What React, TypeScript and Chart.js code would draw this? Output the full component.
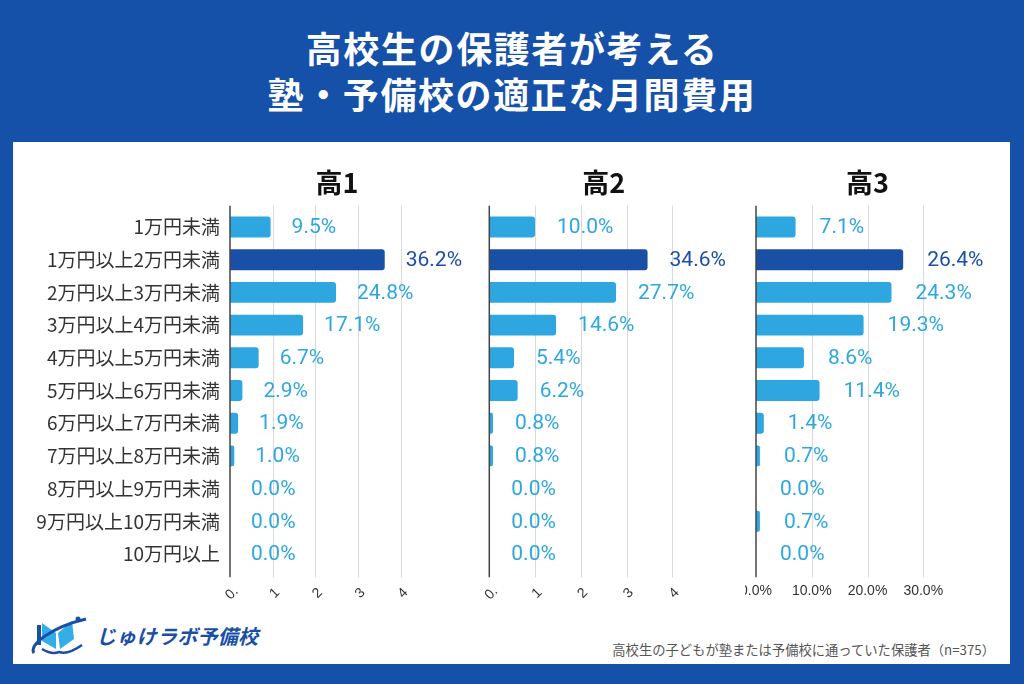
import React, { useEffect, useRef } from "react";
import { Chart, registerables } from "chart.js";

Chart.register(...registerables);

// ---- data ----
const categories = [
  "1万円未満",
  "1万円以上2万円未満",
  "2万円以上3万円未満",
  "3万円以上4万円未満",
  "4万円以上5万円未満",
  "5万円以上6万円未満",
  "6万円以上7万円未満",
  "7万円以上8万円未満",
  "8万円以上9万円未満",
  "9万円以上10万円未満",
  "10万円以上",
];
const panelTitles = ["高1", "高2", "高3"];
const grade1Values = [9.5, 36.2, 24.8, 17.1, 6.7, 2.9, 1.9, 1.0, 0.0, 0.0, 0.0];
const grade2Values = [10.0, 34.6, 27.7, 14.6, 5.4, 6.2, 0.8, 0.8, 0.0, 0.0, 0.0];
const grade3Values = [7.1, 26.4, 24.3, 19.3, 8.6, 11.4, 1.4, 0.7, 0.0, 0.7, 0.0];
const tickValues12 = [0, 10, 20, 30, 40];
const tickLabels12 = ["0.", "1", "2", "3", "4"];
const tickValues3 = [0, 10, 20, 30];
const tickLabels3 = ["0.0%", "10.0%", "20.0%", "30.0%"];
const xMaxValues = [50, 50, 40];
const highlightIndex = 1;

const chartTitleLine1 = "高校生の保護者が考える";
const chartTitleLine2 = "塾・予備校の適正な月間費用";
const brandName = "じゅけラボ予備校";
const footnote = "高校生の子どもが塾または予備校に通っていた保護者（n=375）";

// ---- styles ----
const BLUE = "#1550a9";
const LIGHT = "#2ea7e0";
const DARK = "#1a4fa6";
const CJK = '"Noto Sans CJK JP", "Noto Sans", sans-serif';

type PanelProps = {
  title: string;
  values: number[];
  tickValues: number[];
  tickLabels: string[];
  xMax: number;
  showCategories: boolean;
  rotateTicks: boolean;
  left: number;
  top: number;
  width: number;
  height: number;
  padding: { left: number; right: number; top: number; bottom: number };
  yWidth: number;
  labelOffset: number;
};

function Panel(p: PanelProps) {
  const ref = useRef<HTMLCanvasElement | null>(null);
  useEffect(() => {
    if (!ref.current) return;
    const decor = {
      id: "panelDecor",
      beforeDatasetsDraw(chart: any) {
        const { ctx, chartArea } = chart;
        const xs = chart.scales.x;
        ctx.save();
        p.tickValues.forEach((v) => {
          if (v === 0) return;
          const x = Math.round(xs.getPixelForValue(v)) + 0.5;
          ctx.strokeStyle = "#d9d9d9";
          ctx.lineWidth = 1;
          ctx.beginPath();
          ctx.moveTo(x, chartArea.top - 5);
          ctx.lineTo(x, chartArea.bottom + 7);
          ctx.stroke();
        });
        ctx.restore();
      },
      afterDatasetsDraw(chart: any) {
        const { ctx, chartArea } = chart;
        const xs = chart.scales.x;
        ctx.save();
        // axis line
        const x0 = xs.getPixelForValue(0);
        ctx.strokeStyle = "#444";
        ctx.lineWidth = 1.5;
        ctx.beginPath();
        ctx.moveTo(x0, chartArea.top - 5);
        ctx.lineTo(x0, chartArea.bottom + 7);
        ctx.stroke();
        // value labels
        const meta = chart.getDatasetMeta(0);
        ctx.font = "21px Roboto, sans-serif";
        ctx.textAlign = "left";
        ctx.textBaseline = "middle";
        meta.data.forEach((bar: any, i: number) => {
          ctx.fillStyle = i === highlightIndex ? DARK : LIGHT;
          ctx.fillText(p.values[i].toFixed(1) + "%", bar.x + p.labelOffset, bar.y + 1);
        });
        // tick labels
        ctx.fillStyle = "#333";
        ctx.font = '14px "Liberation Sans", Arial, sans-serif';
        ctx.textAlign = "center";
        ctx.textBaseline = "middle";
        p.tickValues.forEach((v, i) => {
          const x = xs.getPixelForValue(v);
          if (p.rotateTicks) {
            ctx.save();
            ctx.translate(x + 2, chartArea.bottom + 23);
            ctx.rotate(-Math.PI / 4);
            ctx.fillText(p.tickLabels[i], 0, 0);
            ctx.restore();
          } else {
            ctx.fillText(p.tickLabels[i], x, chartArea.bottom + 21);
          }
        });
        // panel title
        ctx.fillStyle = "#111";
        ctx.font = "bold 27px " + CJK;
        ctx.textAlign = "center";
        ctx.textBaseline = "middle";
        ctx.fillText(p.title, (chartArea.left + chartArea.right) / 2, chartArea.top - 28);
        ctx.restore();
      },
    };
    const chart = new Chart(ref.current, {
      type: "bar",
      data: {
        labels: categories,
        datasets: [
          {
            data: p.values,
            backgroundColor: p.values.map((_, i) => (i === highlightIndex ? DARK : LIGHT)),
            borderRadius: 3,
            barPercentage: 0.64,
            categoryPercentage: 1,
          },
        ],
      },
      options: {
        indexAxis: "y",
        animation: false,
        responsive: false,
        maintainAspectRatio: false,
        layout: { padding: p.padding },
        plugins: {
          legend: { display: false },
          tooltip: { enabled: false },
          title: { display: false },
        },
        scales: {
          x: { display: false, min: 0, max: p.xMax },
          y: p.showCategories
            ? {
                display: true,
                grid: { display: false, drawTicks: false },
                border: { display: false },
                ticks: {
                  autoSkip: false,
                  color: "#333",
                  padding: 10,
                  font: { size: 19, family: CJK },
                },
                afterFit: (s: any) => {
                  s.width = p.yWidth;
                },
              }
            : { display: false },
        },
      },
      plugins: [decor],
    } as any);
    return () => chart.destroy();
  }, []);
  return (
    <canvas
      ref={ref}
      width={p.width}
      height={p.height}
      style={{ position: "absolute", left: p.left, top: p.top, width: p.width, height: p.height, display: "block" }}
    />
  );
}

function Logo() {
  return (
    <div style={{ position: "absolute", left: 30, top: 612, height: 46, display: "flex", alignItems: "center" }}>
      <svg width={62} height={44} viewBox="0 0 62 44">
        <polygon points="12,10 26,20 26,36 12,28" fill="#34aee6" />
        <polygon points="28,20 42,8 44,26 30,36" fill="#34aee6" />
        <rect x={7} y={12} width={4} height={20} fill={DARK} />
        <path d="M4,40 C-2,32 22,14 56,6" stroke={DARK} strokeWidth={3} fill="none" />
        <path d="M12,36 Q22,42 29,39 Q38,42 52,32" stroke={DARK} strokeWidth={2.5} fill="none" />
        <circle cx={48} cy={6} r={2.5} fill={DARK} />
      </svg>
      <span
        style={{
          marginLeft: 4,
          fontFamily: CJK,
          fontWeight: 700,
          fontSize: 20,
          color: DARK,
          letterSpacing: 0.3,
          fontStyle: "italic",
        }}
      >
        {brandName}
      </span>
    </div>
  );
}

export default function App() {
  return (
    <div
      style={{
        position: "fixed",
        left: 0,
        top: 0,
        width: 1024,
        height: 684,
        background: BLUE,
        overflow: "hidden",
        fontFamily: CJK,
      }}
    >
      <div
        style={{
          position: "absolute",
          left: 0,
          top: 24,
          width: 1024,
          textAlign: "center",
          color: "#fff",
          fontWeight: 700,
          fontSize: 36,
          lineHeight: "46px",
          letterSpacing: 1.6,
        }}
      >
        <div>{chartTitleLine1}</div>
        <div>{chartTitleLine2}</div>
      </div>
      <div style={{ position: "absolute", left: 13, top: 142, width: 997, height: 522, background: "#fff" }} />
      <Panel
        title={panelTitles[0]}
        values={grade1Values}
        tickValues={tickValues12}
        tickLabels={tickLabels12}
        xMax={xMaxValues[0]}
        showCategories={true}
        rotateTicks={true}
        left={20}
        top={160}
        width={460}
        height={440}
        padding={{ left: 0, right: 36.3, top: 50.65, bottom: 29.65 }}
        yWidth={210}
        labelOffset={21}
      />
      <Panel
        title={panelTitles[1]}
        values={grade2Values}
        tickValues={tickValues12}
        tickLabels={tickLabels12}
        xMax={xMaxValues[1]}
        showCategories={false}
        rotateTicks={true}
        left={481}
        top={160}
        width={260}
        height={440}
        padding={{ left: 8.3, right: 23, top: 50.65, bottom: 29.65 }}
        yWidth={0}
        labelOffset={22}
      />
      <Panel
        title={panelTitles[2]}
        values={grade3Values}
        tickValues={tickValues3}
        tickLabels={tickLabels3}
        xMax={xMaxValues[2]}
        showCategories={false}
        rotateTicks={false}
        left={745}
        top={160}
        width={262}
        height={440}
        padding={{ left: 11, right: 28, top: 50.65, bottom: 29.65 }}
        yWidth={0}
        labelOffset={24}
      />
      <Logo />
      <div
        style={{
          position: "absolute",
          right: 1024 - 995,
          top: 641,
          fontSize: 13.3,
          lineHeight: "18px",
          color: "#555",
          whiteSpace: "nowrap",
        }}
      >
        {footnote}
      </div>
    </div>
  );
}
